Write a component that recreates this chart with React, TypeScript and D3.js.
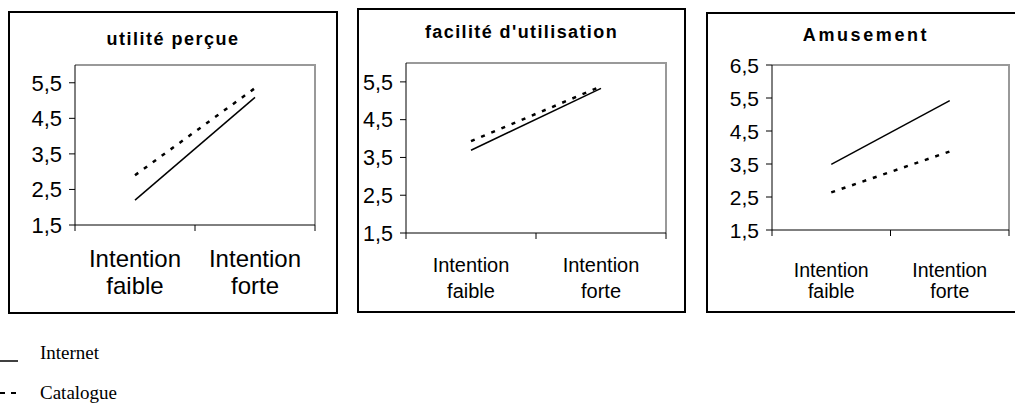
import React from 'react';
import * as d3 from 'd3';

const categories = [
  ['Intention', 'faible'],
  ['Intention', 'forte'],
];
const panelTitles = ['utilité perçue', "facilité d'utilisation", 'Amusement'];
const internetValues = [
  [2.2, 5.09],
  [3.69, 5.33],
  [3.49, 5.42],
];
const catalogueValues = [
  [2.9, 5.35],
  [3.93, 5.38],
  [2.64, 3.88],
];
const yTicks = [
  [1.5, 2.5, 3.5, 4.5, 5.5],
  [1.5, 2.5, 3.5, 4.5, 5.5],
  [1.5, 2.5, 3.5, 4.5, 5.5, 6.5],
];
const yMax = [6, 6, 6.5];
const legendLabels = ['Internet', 'Catalogue'];

type Layout = {
  box: { x: number; y: number; w: number; h: number };
  plot: { l: number; t: number; r: number; b: number };
  titleY: number;
  titleSpacing: number;
  tickFont: number;
  catFont: number;
  catY: [number, number];
};

const layouts: Layout[] = [
  {
    box: { x: 9, y: 12, w: 328, h: 301 },
    plot: { l: 75, t: 65, r: 315, b: 225 },
    titleY: 45,
    titleSpacing: 1.5,
    tickFont: 22,
    catFont: 24,
    catY: [267, 294],
  },
  {
    box: { x: 358, y: 9, w: 327, h: 303 },
    plot: { l: 406, t: 63, r: 666, b: 233 },
    titleY: 38,
    titleSpacing: 1.4,
    tickFont: 21.5,
    catFont: 20,
    catY: [272, 298],
  },
  {
    box: { x: 707, y: 13, w: 318, h: 299 },
    plot: { l: 772, t: 65, r: 1009, b: 230 },
    titleY: 41,
    titleSpacing: 2.6,
    tickFont: 21,
    catFont: 19.5,
    catY: [277, 298],
  },
];

const fmt = (v: number) => v.toFixed(1).replace('.', ',');
const sans = 'Liberation Sans, Arial, sans-serif';

const Panel: React.FC<{ i: number }> = ({ i }) => {
  const lay = layouts[i];
  const { plot, box } = lay;
  const x = d3.scaleBand<number>().domain([0, 1]).range([plot.l, plot.r]);
  const y = d3.scaleLinear().domain([1.5, yMax[i]]).range([plot.b, plot.t]);
  const cx = (k: number) => (x(k) ?? 0) + x.bandwidth() / 2;
  const line = d3
    .line<number>()
    .x((_, k) => cx(k))
    .y(d => y(d));
  const bounds = [plot.l, plot.l + x.bandwidth(), plot.r];

  return (
    <g>
      <rect x={box.x} y={box.y} width={box.w} height={box.h} fill="none" stroke="#000" strokeWidth={2} />
      <text
        x={box.x + box.w / 2}
        y={lay.titleY}
        textAnchor="middle"
        fontFamily={sans}
        fontWeight="bold"
        fontSize={18}
        letterSpacing={lay.titleSpacing}
      >
        {panelTitles[i]}
      </text>
      <polyline
        points={`${plot.l},${plot.t} ${plot.r},${plot.t} ${plot.r},${plot.b}`}
        fill="none"
        stroke="#999"
        strokeWidth={2}
      />
      <line x1={plot.l} x2={plot.l} y1={plot.t} y2={plot.b} stroke="#000" strokeWidth={1} />
      <line x1={plot.l} x2={plot.r} y1={plot.b} y2={plot.b} stroke="#000" strokeWidth={1} />
      {yTicks[i].map(t => (
        <g key={t}>
          <line x1={plot.l - 6} x2={plot.l} y1={y(t)} y2={y(t)} stroke="#000" strokeWidth={1} />
          <text x={plot.l - 13} y={y(t)} dy="0.36em" textAnchor="end" fontFamily={sans} fontSize={lay.tickFont}>
            {fmt(t)}
          </text>
        </g>
      ))}
      {bounds.map((b, k) => (
        <line key={k} x1={b} x2={b} y1={plot.b} y2={plot.b + 6} stroke="#000" strokeWidth={1} />
      ))}
      {categories.map((c, k) => (
        <text key={k} x={cx(k)} textAnchor="middle" fontFamily={sans} fontSize={lay.catFont}>
          <tspan x={cx(k)} y={lay.catY[0]}>{c[0]}</tspan>
          <tspan x={cx(k)} y={lay.catY[1]}>{c[1]}</tspan>
        </text>
      ))}
      <path d={line(internetValues[i]) ?? ''} fill="none" stroke="#000" strokeWidth={1.5} />
      <path
        d={line(catalogueValues[i]) ?? ''}
        fill="none"
        stroke="#000"
        strokeWidth={2.5}
        strokeDasharray="4 7"
      />
    </g>
  );
};

export default function App() {
  return (
    <svg
      width={1015}
      height={409}
      viewBox="0 0 1015 409"
      style={{ position: 'absolute', left: 0, top: 0, background: '#fff' }}
    >
      <rect x={0} y={0} width={1015} height={409} fill="#fff" />
      {panelTitles.map((_, i) => (
        <Panel key={i} i={i} />
      ))}
      <line x1={0} x2={18} y1={361} y2={361} stroke="#000" strokeWidth={1.5} />
      <line x1={0} x2={18} y1={393} y2={393} stroke="#000" strokeWidth={2} strokeDasharray="5 6" />
      {legendLabels.map((l, k) => (
        <text key={l} x={40} y={359 + k * 40} fontFamily="Liberation Serif, Times New Roman, serif" fontSize={19}>
          {l}
        </text>
      ))}
    </svg>
  );
}
